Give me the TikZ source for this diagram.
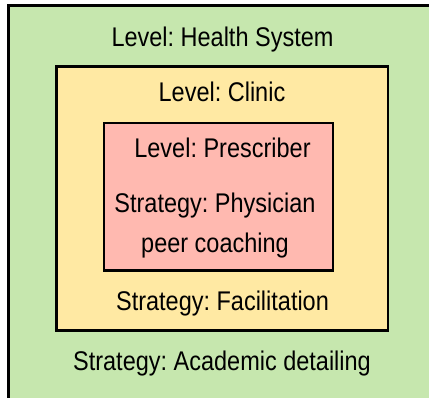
\documentclass[tikz,border=0pt]{standalone}
\usepackage{fontspec}
\setmainfont{Liberation Sans}[FakeStretch=0.87]
\usepackage{tikz}
\usetikzlibrary{positioning}
\definecolor{sysgreen}{RGB}{198,231,174}
\definecolor{clinyellow}{RGB}{255,233,163}
\definecolor{prespink}{RGB}{255,185,176}
\frenchspacing

\begin{document}
\begin{tikzpicture}[x=1pt,y=-1pt,
        box/.style={draw,rectangle,inner sep=0pt,outer sep=0pt,line width=2.6pt},
        lbl/.style={anchor=base,inner sep=0pt,font=\fontsize{27}{32}\selectfont}]
   \useasboundingbox (0,0) rectangle (429,398);
   \clip (0,0) rectangle (429,398);
   % nested boxes
   \node (S) [box, line width=3pt, fill=sysgreen, minimum width=431.5pt, minimum height=404pt] at (224.25,208) {};
   \node (C) [box, fill=clinyellow, minimum width=331.5pt, minimum height=264pt] at (222.25,198.5) {};
   \node (P) [box, fill=prespink, minimum width=229pt, minimum height=147.7pt] at (218.5,196.85) {};

   \node (Slevel) [lbl] at (222.5,47) {Level: Health System};
   \node (Clevel) [lbl] at (222,102) {Level: Clinic};
   \node (Plevel) [lbl] at (222.5,158) {Level: Prescriber};
   \node (Pstrat) [lbl] at (215,213) {Strategy: Physician};
   \node (Pstrat2) [lbl] at (215,253) {peer coaching};
   \node (Cstrat) [lbl] at (222.5,311) {Strategy: Facilitation};
   \node (Sstrat) [lbl] at (222,371) {Strategy: Academic detailing};
\end{tikzpicture}
\end{document}
